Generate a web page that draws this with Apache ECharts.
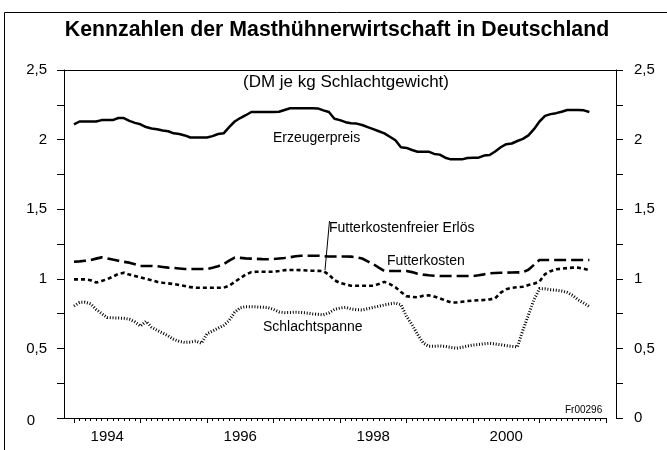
<!DOCTYPE html>
<html><head><meta charset="utf-8">
<script src="https://cdn.jsdelivr.net/npm/echarts@6/dist/echarts.min.js"></script>
<style>html,body{margin:0;padding:0;background:#fff}#c{width:667px;height:450px}</style>
</head><body><div id="c"></div>
<script>
// month index 0 = January 1994, one value per month
const firstYear = 1994;
const yearLabels = ['1994', '1996', '1998', '2000'];
const yLabelValues = [0, 0.5, 1, 1.5, 2, 2.5];
const yLabelTexts = ['0', '0,5', '1', '1,5', '2', '2,5'];

const erzeugerpreis = [
  2.11,2.13,2.13,2.13,2.13,2.14,2.14,2.14,2.155,2.155,2.135,2.12,
  2.11,2.09,2.08,2.075,2.066,2.06,2.045,2.04,2.03,2.015,2.015,2.015,
  2.015,2.025,2.04,2.045,2.09,2.13,2.155,2.175,2.198,2.198,2.198,2.198,
  2.198,2.2,2.213,2.225,2.225,2.225,2.225,2.225,2.224,2.21,2.198,2.15,
  2.14,2.125,2.117,2.115,2.105,2.09,2.075,2.06,2.045,2.02,1.995,1.945,
  1.94,1.925,1.913,1.913,1.913,1.897,1.892,1.87,1.858,1.858,1.858,1.868,
  1.87,1.87,1.885,1.889,1.915,1.945,1.967,1.972,1.99,2.005,2.03,2.075,
  2.13,2.17,2.183,2.19,2.2,2.213,2.213,2.213,2.21,2.198
];
const futterkosten = [
  1.123,1.125,1.13,1.135,1.145,1.154,1.147,1.138,1.13,1.122,1.116,1.105,
  1.092,1.092,1.092,1.09,1.085,1.08,1.078,1.074,1.07,1.07,1.07,1.07,
  1.07,1.08,1.09,1.105,1.13,1.152,1.15,1.147,1.145,1.143,1.141,1.14,
  1.142,1.146,1.15,1.155,1.162,1.166,1.166,1.166,1.166,1.163,1.16,1.16,
  1.16,1.16,1.159,1.155,1.146,1.125,1.106,1.08,1.056,1.056,1.056,1.056,
  1.056,1.048,1.036,1.03,1.025,1.022,1.02,1.02,1.02,1.02,1.02,1.02,
  1.02,1.025,1.032,1.04,1.042,1.043,1.044,1.045,1.046,1.047,1.065,1.1,
  1.135,1.135,1.135,1.135,1.135,1.135,1.135,1.135,1.135,1.135
];
const futterkostenfreierErloes = [
  0.996,0.996,0.996,0.99,0.973,0.985,0.997,1.015,1.035,1.044,1.03,1.02,
  1.01,1.0,0.99,0.978,0.972,0.967,0.962,0.955,0.948,0.94,0.936,0.936,
  0.936,0.936,0.936,0.936,0.95,0.978,1.005,1.03,1.048,1.051,1.051,1.051,
  1.051,1.056,1.062,1.063,1.063,1.062,1.06,1.058,1.057,1.056,1.03,0.99,
  0.97,0.96,0.95,0.95,0.95,0.95,0.95,0.963,0.978,0.962,0.94,0.905,
  0.875,0.87,0.867,0.878,0.882,0.872,0.86,0.845,0.83,0.83,0.835,0.84,
  0.843,0.846,0.848,0.852,0.86,0.9,0.925,0.935,0.94,0.943,0.955,0.965,
  0.98,1.034,1.055,1.068,1.073,1.077,1.08,1.08,1.072,1.063
];
const schlachtspanne = [
  0.805,0.83,0.832,0.82,0.78,0.75,0.722,0.72,0.718,0.716,0.71,0.69,
  0.66,0.695,0.652,0.63,0.61,0.59,0.565,0.55,0.543,0.545,0.553,0.537,
  0.605,0.625,0.645,0.665,0.7,0.76,0.792,0.8,0.8,0.798,0.796,0.793,
  0.78,0.762,0.757,0.758,0.76,0.758,0.754,0.748,0.745,0.741,0.755,0.78,
  0.79,0.795,0.783,0.778,0.776,0.785,0.795,0.803,0.812,0.82,0.826,0.814,
  0.73,0.67,0.6,0.54,0.515,0.515,0.518,0.515,0.507,0.501,0.508,0.517,
  0.524,0.528,0.533,0.537,0.532,0.526,0.52,0.515,0.51,0.63,0.74,0.85,
  0.93,0.928,0.922,0.918,0.912,0.902,0.88,0.848,0.825,0.8
];

const FONT = '"Liberation Sans", Arial, sans-serif';
const toPairs = arr => arr.map((v, i) => [i, v]);
const nYears = 8;
const yearTicks = [], monthTicks = [];
for (let m = 0; m <= nYears * 12; m++) { if (m % 12 === 0) yearTicks.push(m); else monthTicks.push(m); }
const labelPos = yearLabels.map(y => (Number(y) - firstYear) * 12 + 6);

const yLabelFmt = v => {
  const k = yLabelValues.indexOf(Math.round(v * 100) / 100);
  return k < 0 ? '' : yLabelTexts[k];
};

const chart = echarts.init(document.getElementById('c'), null, {renderer: 'canvas'});
const black = '#000';
const baseSeries = (name, data, ls) => ({
  name, type: 'line', xAxisIndex: 0, yAxisIndex: 0, data: toPairs(data),
  symbol: 'none', smooth: false, animation: false,
  lineStyle: Object.assign({color: black, cap: 'butt', join: 'round'}, ls)
});

chart.setOption({
  animation: false,
  backgroundColor: '#fff',
  textStyle: {fontFamily: FONT},
  grid: [
    {left: 64, right: 61, top: 70, bottom: 32},
    {left: 64, right: 51, top: 70, bottom: 32}
  ],
  xAxis: [
    {gridIndex: 0, type: 'value', position: 'bottom', min: -1.8, max: 96,
      axisLine: {show: true, onZero: false, lineStyle: {color: black, width: 1}},
      axisTick: {show: true, length: 5, customValues: yearTicks, lineStyle: {color: black, width: 1}},
      axisLabel: {show: true, customValues: labelPos, margin: 11, fontSize: 15, color: black, fontFamily: FONT,
        formatter: v => yearLabels[labelPos.indexOf(v)] || ''},
      splitLine: {show: false}},
    {gridIndex: 0, type: 'value', position: 'bottom', offset: 0, min: -1.8, max: 96,
      axisLine: {show: false, onZero: false},
      axisTick: {show: true, length: 3, customValues: monthTicks, lineStyle: {color: black, width: 1}},
      axisLabel: {show: false}, splitLine: {show: false}},
    {gridIndex: 1, type: 'value', position: 'top', min: 0, max: 1,
      axisLine: {show: true, onZero: false, lineStyle: {color: black, width: 1}},
      axisTick: {show: false}, axisLabel: {show: false}, splitLine: {show: false}}
  ],
  yAxis: [
    {gridIndex: 0, type: 'value', position: 'left', min: 0, max: 2.5, interval: 0.25,
      axisLine: {show: true, onZero: false, lineStyle: {color: black, width: 1}},
      axisTick: {show: true, length: 7, lineStyle: {color: black, width: 1}},
      axisLabel: {margin: 17, fontSize: 15, color: black, fontFamily: FONT,
        formatter: v => v === 0 ? '{z|0}' : yLabelFmt(v),
        rich: {z: {fontSize: 15, color: black, fontFamily: FONT, padding: [6, 12, 0, 0]}}},
      splitLine: {show: false}},
    {gridIndex: 1, type: 'value', position: 'right', min: 0, max: 2.5, interval: 0.25,
      axisLine: {show: true, onZero: false, lineStyle: {color: black, width: 1}},
      axisTick: {show: true, length: 7, lineStyle: {color: black, width: 1}},
      axisLabel: {margin: 18, fontSize: 15, color: black, fontFamily: FONT, formatter: yLabelFmt},
      splitLine: {show: false}}
  ],
  series: [
    baseSeries('Erzeugerpreis', erzeugerpreis, {width: 2.5, type: 'solid'}),
    baseSeries('Futterkosten', futterkosten, {width: 2.6, type: [12, 5]}),
    baseSeries('Futterkostenfreier Erlös', futterkostenfreierErloes, {width: 2.6, type: [4, 3]}),
    baseSeries('Schlachtspanne', schlachtspanne, {width: 3, type: [1, 1.8]})
  ],
  graphic: [
    {type: 'rect', silent: true, shape: {x: 4.5, y: 12.5, width: 700, height: 500},
      style: {fill: 'none', stroke: black, lineWidth: 1}},
    {type: 'text', x: 337, y: 30, style: {text: 'Kennzahlen der Masthühnerwirtschaft in Deutschland',
      font: 'bold 21.3px ' + FONT, fill: black, textAlign: 'center', textVerticalAlign: 'middle'}},
    {type: 'text', x: 346, y: 82, style: {text: '(DM je kg Schlachtgewicht)',
      font: '17px ' + FONT, fill: black, textAlign: 'center', textVerticalAlign: 'middle'}},
    {type: 'text', x: 273, y: 138, style: {text: 'Erzeugerpreis', font: '14px ' + FONT, fill: black, textVerticalAlign: 'middle'}},
    {type: 'text', x: 329, y: 228, style: {text: 'Futterkostenfreier Erlös', font: '14px ' + FONT, fill: black, textVerticalAlign: 'middle'}},
    {type: 'line', shape: {x1: 329.5, y1: 221, x2: 325, y2: 270}, style: {stroke: black, lineWidth: 1}},
    {type: 'text', x: 387, y: 261, style: {text: 'Futterkosten', font: '14px ' + FONT, fill: black, textVerticalAlign: 'middle'}},
    {type: 'text', x: 263, y: 327, style: {text: 'Schlachtspanne', font: '14px ' + FONT, fill: black, textVerticalAlign: 'middle'}},
    {type: 'text', x: 565, y: 410, style: {text: 'Fr00296', font: '10px ' + FONT, fill: black, textVerticalAlign: 'middle'}}
  ]
});
</script>
</body></html>
